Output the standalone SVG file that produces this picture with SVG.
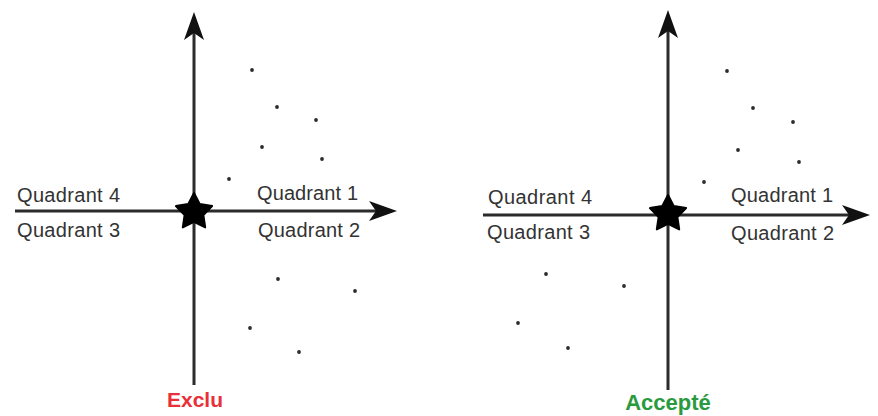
<svg xmlns="http://www.w3.org/2000/svg" width="878" height="416" viewBox="0 0 878 416">
  <style>
    .axis { stroke: #2b2b2b; stroke-width: 3; fill: none; }
    .lbl { font-family: "Liberation Sans", Arial, sans-serif; font-size: 20px; fill: #333333; }
    .verdict { font-family: "Liberation Sans", Arial, sans-serif; font-weight: bold; text-anchor: middle; }
    .pt { fill: #2b2b2b; }
    .origin { fill: #000000; stroke: #000000; stroke-width: 2; stroke-linejoin: round; }
  </style>
  <defs>
    <marker id="head" markerUnits="userSpaceOnUse" markerWidth="30" markerHeight="22" viewBox="0 0 30 22" refX="8" refY="11" orient="auto">
      <path d="M1,1 L29,11 L1,21 L8,11 Z" fill="#111111"/>
    </marker>
    <polygon id="star" points="0,-19 5.8,-7.9 18.1,-5.9 9.4,3.1 11.2,15.4 0,9.8 -11.2,15.4 -9.4,3.1 -18.1,-5.9 -5.8,-7.9"/>
    <circle id="dot" r="1.9"/>
  </defs>

  <!-- left chart: points in quadrants 1 and 2 -->
  <g id="chart-exclu">
    <g id="axes-left">
      <line class="axis" x1="194" y1="385" x2="194" y2="33" marker-end="url(#head)"/>
      <line class="axis" x1="15" y1="211" x2="376" y2="211" marker-end="url(#head)"/>
    </g>
    <g id="origin-left"><use href="#star" x="194" y="212" class="origin"/></g>
    <g id="labels-left">
      <text class="lbl" x="17" y="202" textLength="103">Quadrant 4</text>
      <text class="lbl" x="17" y="237" textLength="103">Quadrant 3</text>
      <text class="lbl" x="257" y="200" textLength="101">Quadrant 1</text>
      <text class="lbl" x="258" y="237" textLength="102">Quadrant 2</text>
    </g>
    <g id="points-left" class="pt">
      <use href="#dot" x="252" y="70"/>
      <use href="#dot" x="277" y="107"/>
      <use href="#dot" x="316" y="120"/>
      <use href="#dot" x="262" y="147"/>
      <use href="#dot" x="322" y="159"/>
      <use href="#dot" x="229" y="179"/>
      <use href="#dot" x="278" y="279"/>
      <use href="#dot" x="355" y="291"/>
      <use href="#dot" x="250" y="328"/>
      <use href="#dot" x="299" y="352"/>
    </g>
    <text id="verdict-left" class="verdict" x="195" y="407" fill="#e8303a" font-size="21">Exclu</text>
  </g>

  <!-- right chart: points in quadrants 1 and 3 -->
  <g id="chart-accepte">
    <g id="axes-right">
      <line class="axis" x1="668" y1="390" x2="668" y2="31" marker-end="url(#head)"/>
      <line class="axis" x1="483" y1="215" x2="849" y2="215" marker-end="url(#head)"/>
    </g>
    <g id="origin-right"><use href="#star" x="668" y="214" class="origin"/></g>
    <g id="labels-right">
      <text class="lbl" x="488" y="204" textLength="104">Quadrant 4</text>
      <text class="lbl" x="487" y="239" textLength="103">Quadrant 3</text>
      <text class="lbl" x="731" y="202" textLength="102">Quadrant 1</text>
      <text class="lbl" x="731" y="240" textLength="103">Quadrant 2</text>
    </g>
    <g id="points-right" class="pt">
      <use href="#dot" x="727" y="71"/>
      <use href="#dot" x="753" y="108"/>
      <use href="#dot" x="793" y="122"/>
      <use href="#dot" x="738" y="150"/>
      <use href="#dot" x="799" y="162"/>
      <use href="#dot" x="704" y="182"/>
      <use href="#dot" x="546" y="274"/>
      <use href="#dot" x="624" y="286"/>
      <use href="#dot" x="518" y="323"/>
      <use href="#dot" x="568" y="348"/>
    </g>
    <text id="verdict-right" class="verdict" x="668" y="410" fill="#2a9a3e" font-size="22">Accepté</text>
  </g>
</svg>
